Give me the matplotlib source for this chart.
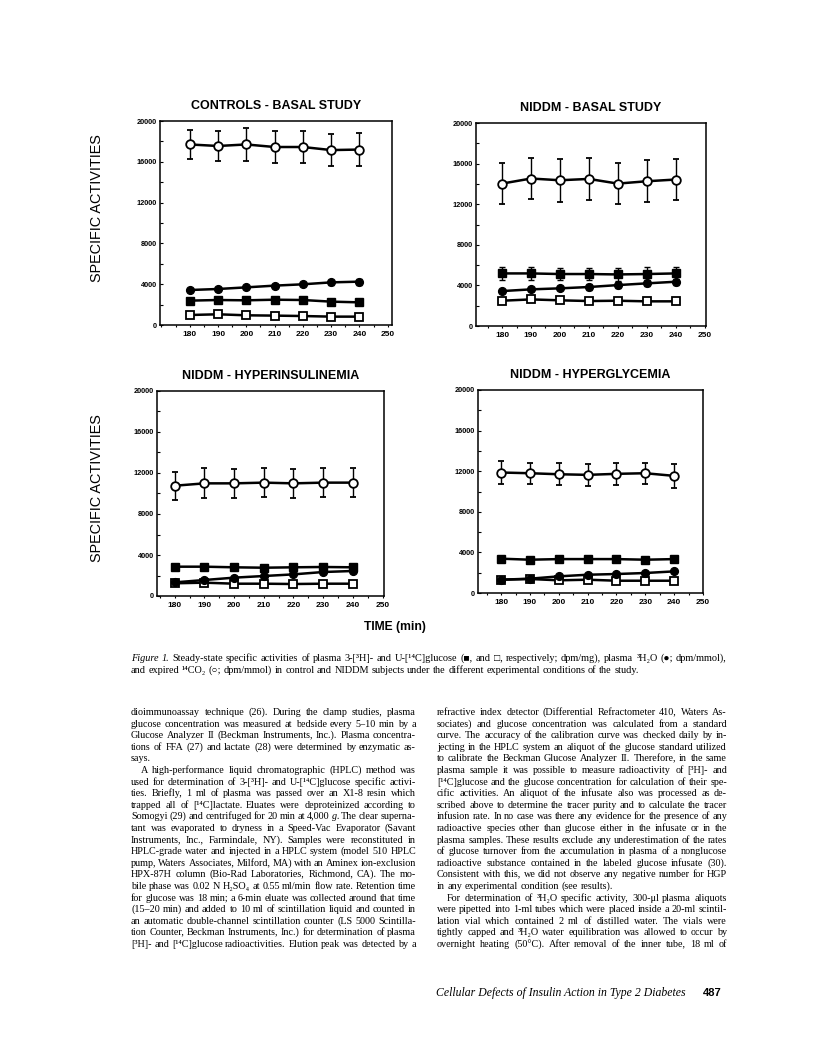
import math
import matplotlib
matplotlib.use("Agg")
from matplotlib import pyplot as plt
from matplotlib.ticker import MultipleLocator

# ---- data ----
time = [180, 190, 200, 210, 220, 230, 240]
x_ticks = [180, 190, 200, 210, 220, 230, 240, 250]
y_ticks = [0, 4000, 8000, 12000, 16000, 20000]
titles = ["CONTROLS - BASAL STUDY", "NIDDM - BASAL STUDY",
          "NIDDM - HYPERINSULINEMIA", "NIDDM - HYPERGLYCEMIA"]

# controls, basal
ctrl_co2 = [17700, 17550, 17700, 17450, 17450, 17150, 17200]
ctrl_co2_err = [1400, 1500, 1580, 1550, 1580, 1550, 1600]
ctrl_h2o = [3430, 3530, 3690, 3860, 3990, 4180, 4250]
ctrl_h2o_err = [150, 150, 150, 200, 200, 250, 280]
ctrl_h3 = [2390, 2450, 2420, 2480, 2450, 2290, 2220]
ctrl_c14 = [980, 1050, 950, 920, 880, 820, 820]

# NIDDM, basal
bas_co2 = [14030, 14530, 14360, 14490, 14030, 14260, 14430]
bas_co2_err = [2000, 2050, 2100, 2100, 2000, 2050, 2050]
bas_h3 = [5180, 5180, 5120, 5120, 5080, 5120, 5180]
bas_h3_err = [650, 650, 600, 600, 600, 650, 600]
bas_h2o = [3440, 3610, 3710, 3840, 4030, 4200, 4360]
bas_h2o_err = [150, 200, 200, 250, 300, 300, 300]
bas_c14 = [2490, 2620, 2530, 2460, 2490, 2430, 2430]

# NIDDM, hyperinsulinemia
hins_co2 = [10760, 10990, 10990, 11060, 10990, 11060, 11060]
hins_co2_err = [1350, 1460, 1420, 1420, 1400, 1380, 1380]
hins_h3 = [2860, 2860, 2800, 2760, 2800, 2830, 2800]
hins_h2o = [1330, 1560, 1790, 1950, 2110, 2340, 2440]
hins_c14 = [1240, 1300, 1200, 1200, 1170, 1200, 1200]

# NIDDM, hyperglycemia
hgly_co2 = [11870, 11800, 11700, 11640, 11740, 11800, 11540]
hgly_co2_err = [1100, 1050, 1080, 1100, 1080, 1050, 1150]
hgly_h3 = [3380, 3280, 3340, 3340, 3340, 3280, 3340]
hgly_h2o = [1310, 1410, 1640, 1800, 1870, 1970, 2130]
hgly_c14 = [1310, 1380, 1250, 1310, 1210, 1210, 1210]

caption = [
    "Figure 1. Steady-state specific activities of plasma 3-[³H]- and U-[¹⁴C]glucose (■, and □, respectively; dpm/mg), plasma ³H₂O (●; dpm/mmol),",
    "and expired ¹⁴CO₂ (○; dpm/mmol) in control and NIDDM subjects under the different experimental conditions of the study.",
]

# paragraphs: (indented first line, last line justified, lines)
left_text = [
    (False, False, [
        "dioimmunoassay technique (26). During the clamp studies, plasma",
        "glucose concentration was measured at bedside every 5–10 min by a",
        "Glucose Analyzer II (Beckman Instruments, Inc.). Plasma concentra-",
        "tions of FFA (27) and lactate (28) were determined by enzymatic as-",
        "says.",
    ]),
    (True, True, [
        "A high-performance liquid chromatographic (HPLC) method was",
        "used for determination of 3-[³H]- and U-[¹⁴C]glucose specific activi-",
        "ties. Briefly, 1 ml of plasma was passed over an X1-8 resin which",
        "trapped all of [¹⁴C]lactate. Eluates were deproteinized according to",
        "Somogyi (29) and centrifuged for 20 min at 4,000 g. The clear superna-",
        "tant was evaporated to dryness in a Speed-Vac Evaporator (Savant",
        "Instruments, Inc., Farmindale, NY). Samples were reconstituted in",
        "HPLC-grade water and injected in a HPLC system (model 510 HPLC",
        "pump, Waters Associates, Milford, MA) with an Aminex ion-exclusion",
        "HPX-87H column (Bio-Rad Laboratories, Richmond, CA). The mo-",
        "bile phase was 0.02 N H₂SO₄ at 0.55 ml/min flow rate. Retention time",
        "for glucose was 18 min; a 6-min eluate was collected around that time",
        "(15–20 min) and added to 10 ml of scintillation liquid and counted in",
        "an automatic double-channel scintillation counter (LS 5000 Scintilla-",
        "tion Counter, Beckman Instruments, Inc.) for determination of plasma",
        "[³H]- and [¹⁴C]glucose radioactivities. Elution peak was detected by a",
    ]),
]
right_text = [
    (False, False, [
        "refractive index detector (Differential Refractometer 410, Waters As-",
        "sociates) and glucose concentration was calculated from a standard",
        "curve. The accuracy of the calibration curve was checked daily by in-",
        "jecting in the HPLC system an aliquot of the glucose standard utilized",
        "to calibrate the Beckman Glucose Analyzer II. Therefore, in the same",
        "plasma sample it was possible to measure radioactivity of [³H]- and",
        "[¹⁴C]glucose and the glucose concentration for calculation of their spe-",
        "cific activities. An aliquot of the infusate also was processed as de-",
        "scribed above to determine the tracer purity and to calculate the tracer",
        "infusion rate. In no case was there any evidence for the presence of any",
        "radioactive species other than glucose either in the infusate or in the",
        "plasma samples. These results exclude any underestimation of the rates",
        "of glucose turnover from the accumulation in plasma of a nonglucose",
        "radioactive substance contained in the labeled glucose infusate (30).",
        "Consistent with this, we did not observe any negative number for HGP",
        "in any experimental condition (see results).",
    ]),
    (True, True, [
        "For determination of ³H₂O specific activity, 300-μl plasma aliquots",
        "were pipetted into 1-ml tubes which were placed inside a 20-ml scintil-",
        "lation vial which contained 2 ml of distilled water. The vials were",
        "tightly capped and ³H₂O water equilibration was allowed to occur by",
        "overnight heating (50°C). After removal of the inner tube, 18 ml of",
    ]),
]
italic_words = {"Figure", "1.", "g."}
footer = "Cellular Defects of Insulin Action in Type 2 Diabetes"
page_no = "487"

# ---- layout ----
W, H = 816, 1064
fig = plt.figure(figsize=(W / 100, H / 100), dpi=100)
rend = fig.canvas.get_renderer()
SANS = 'Liberation Sans'
SERIF = ['Liberation Serif', 'DejaVu Serif', 'DejaVu Sans']


def add_ax(l, t, r, b):
    return fig.add_axes([l / W, 1 - b / H, (r - l) / W, (b - t) / H])


boxes = [(160, 121, 392, 325), (476, 123, 706, 326),
         (157, 391, 384, 596), (478, 390, 703, 593)]
xlims = [(169.5, 251.5), (171, 250.5), (174, 250.5), (172, 250)]
zero = [0] * 7
panels = [
    (ctrl_co2, ctrl_co2_err, ctrl_h3, zero, ctrl_h2o, ctrl_h2o_err, ctrl_c14),
    (bas_co2, bas_co2_err, bas_h3, bas_h3_err, bas_h2o, bas_h2o_err, bas_c14),
    (hins_co2, hins_co2_err, hins_h3, zero, hins_h2o, zero, hins_c14),
    (hgly_co2, hgly_co2_err, hgly_h3, zero, hgly_h2o, zero, hgly_c14),
]

for box, xl, title, p in zip(boxes, xlims, titles, panels):
    co2, co2_e, h3, h3_e, h2o, h2o_e, c14 = p
    ax = add_ax(*box)
    kw = dict(color='black', lw=1.8, elinewidth=1.0, capsize=2, capthick=1.0)
    ax.errorbar(time, c14, fmt='-s', ms=5.4, mfc='white', mec='black', mew=1.3, zorder=3, **kw)
    ax.errorbar(time, h3, yerr=h3_e, fmt='-s', ms=5.4, mfc='black', mec='black', zorder=4, **kw)
    ax.errorbar(time, h2o, yerr=h2o_e, fmt='-o', ms=5.6, mfc='black', mec='black', zorder=5, **kw)
    ax.errorbar(time, co2, yerr=co2_e, fmt='-o', ms=6.2, mfc='white', mec='black', mew=1.3, zorder=6, **kw)
    ax.set_xlim(*xl)
    ax.set_ylim(0, 20000)
    ax.set_xticks(x_ticks)
    ax.set_xticklabels([str(v) for v in x_ticks], fontsize=6, fontweight='bold', family=SANS)
    ax.set_yticks(y_ticks)
    ax.set_yticklabels([str(v) for v in y_ticks], fontsize=5.3, fontweight='bold', family=SANS)
    ax.yaxis.set_minor_locator(MultipleLocator(2000))
    ax.xaxis.set_minor_locator(MultipleLocator(5))
    ax.tick_params(axis='y', which='both', direction='in', length=2, width=0.8, pad=2)
    ax.tick_params(axis='x', which='both', direction='out', length=1.5, width=0.8, pad=3)
    for s in ax.spines.values():
        s.set_linewidth(1.1)
    cx = (box[0] + box[2]) / 2
    fig.text(cx / W, 1 - (box[1] - 15) / H, title, ha='center', va='center',
             fontsize=9, fontweight='bold', family=SANS)

for yc in (208, 488):
    fig.text(97 / W, 1 - yc / H, "SPECIFIC ACTIVITIES", rotation=90, ha='center', va='center',
             fontsize=10.4, family=SANS)
fig.text(395 / W, 1 - 627 / H, "TIME (min)", ha='center', va='center',
         fontsize=8.7, fontweight='bold', family=SANS)


def word(s, size, base, style='normal'):
    # Agg snaps each text's bitmap by its own descent; shift y so every word
    # lands on the same integer baseline row
    t = fig.text(0, 0, s, fontsize=size, family=SERIF, style=style, va='baseline', ha='left')
    w, h, d = rend.get_text_width_height_descent(s, t.get_fontproperties(), ismath=False)
    a = h - d
    yy = base - math.floor(a) + math.floor(a + d) - d
    return t, w, yy


def set_line(x0, x1, y, line, full, size):
    base = int(round(y))
    parts = [word(s, size, base, 'italic' if s in italic_words else 'normal')
             for s in line.split(' ')]
    gap = size * 0.25 * 100 / 72
    if full and len(parts) > 1:
        gap = max(0.6, (x1 - x0 - sum(p[1] for p in parts)) / (len(parts) - 1))
    x = x0
    for t, w, yy in parts:
        t.set_position((x / W, 1 - yy / H))
        x += w + gap


def set_column(paras, x0, x1, y0, dy, size):
    y = y0
    for indent, last_full, lines in paras:
        for j, line in enumerate(lines):
            xs = x0 + (10 if (indent and j == 0) else 0)
            full = last_full or j < len(lines) - 1
            set_line(xs, x1, y, line, full, size)
            y += dy


set_line(131, 727, 661, caption[0], True, 7.4)
set_line(131, 727, 673, caption[1], False, 7.4)
set_column(left_text, 131, 416, 715, 11.6, 7.25)
set_column(right_text, 437, 727, 715, 11.6, 7.25)

fig.text(686 / W, 1 - 996 / H, footer, ha='right', va='baseline', fontsize=8.5,
         style='italic', family=SERIF)
fig.text(722 / W, 1 - 996 / H, page_no, ha='right', va='baseline', fontsize=8,
         fontweight='bold', family=SANS)

fig.savefig("out.png", dpi=100, facecolor='white')
